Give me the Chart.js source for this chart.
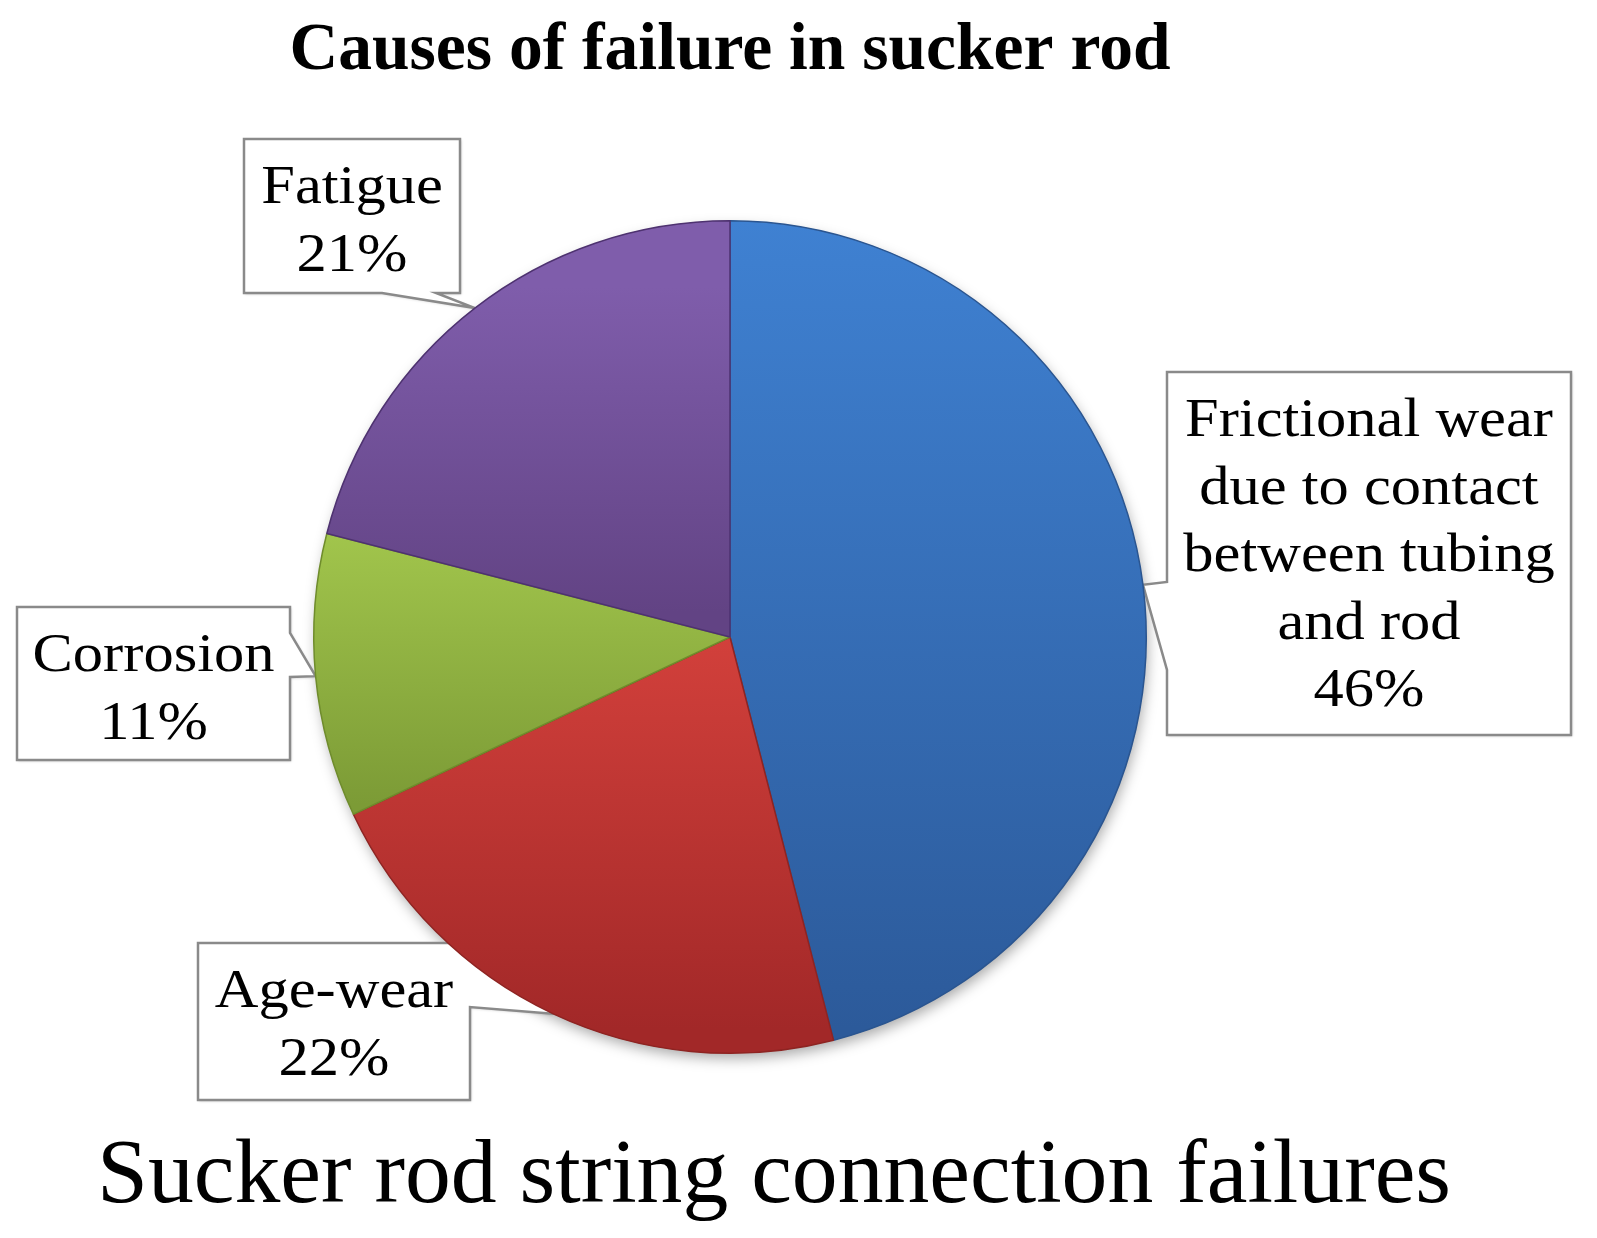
<!DOCTYPE html>
<html>
<head>
<meta charset="utf-8">
<script src="https://cdn.jsdelivr.net/npm/chart.js@4.4.1/dist/chart.umd.min.js"></script>
<style>
  html, body { margin: 0; padding: 0; background: #fff; }
  #wrap { width: 1597px; height: 1238px; }
</style>
</head>
<body>
<div id="wrap"><canvas id="myChart" width="1597" height="1238"></canvas></div>
<script>
// data
const categories = [
  ['Frictional wear', 'due to contact', 'between tubing', 'and rod'],
  ['Age-wear'],
  ['Corrosion'],
  ['Fatigue']
];
const shares = [46, 22, 11, 21];
const chartTitle = 'Causes of failure in sucker rod';
const caption = 'Sucker rod string connection failures';

// slice colours: [offset top, colour top, offset bottom, colour bottom] of a vertical gradient
const sliceFills = [
  [0.0, '#3f81d2', 0.97, '#2c5a9a'],
  [0.5, '#d2403b', 0.97, '#a22828'],
  [0.36, '#a3c74d', 0.7, '#7c9b36'],
  [0.08, '#7f5dab', 0.47, '#624384']
];
const sliceEdges = ['#2a5590', '#8e2422', '#6f8c2c', '#4e3270'];

// callout boxes [x0, y0, x1, y1], pointer side and where the pointer leaves the box
const callouts = [
  { box: [1167, 372, 1571, 735], side: 'left', base: [582, 670] },
  { box: [198, 943, 470, 1100], side: 'right', base: [943, 1007] },
  { box: [17, 607, 290, 760], side: 'right', base: [633, 677] },
  { box: [244, 139, 460, 293], side: 'bottom', base: [382, 436] }
];

function fillFit(ctx, text, cx, y, font, width) {
  ctx.save();
  ctx.font = font;
  const w = ctx.measureText(text).width;
  ctx.translate(cx, y);
  ctx.scale(width / w, 1);
  ctx.textAlign = 'center';
  ctx.textBaseline = 'alphabetic';
  ctx.fillText(text, 0, 0);
  ctx.restore();
}

const calloutPlugin = {
  id: 'callouts',
  beforeDatasetsDraw(chart) {
    const ctx = chart.ctx;
    const meta = chart.getDatasetMeta(0);
    const first = meta.data[0];

    // soft shadow under the pie
    ctx.save();
    ctx.beginPath();
    ctx.arc(first.x, first.y, first.outerRadius - 1, 0, Math.PI * 2);
    ctx.shadowColor = 'rgba(0,0,0,0.35)';
    ctx.shadowBlur = 14;
    ctx.shadowOffsetX = 2;
    ctx.shadowOffsetY = 6;
    ctx.fillStyle = '#ffffff';
    ctx.fill();
    ctx.restore();

    callouts.forEach((c, i) => {
      const arc = meta.data[i];
      const mid = (arc.startAngle + arc.endAngle) / 2;
      const tx = arc.x + Math.cos(mid) * arc.outerRadius;
      const ty = arc.y + Math.sin(mid) * arc.outerRadius;
      const [x0, y0, x1, y1] = c.box;
      const [b0, b1] = c.base;
      let pts;
      if (c.side === 'left') {
        pts = [[x0, y0], [x1, y0], [x1, y1], [x0, y1], [x0, b1], [tx, ty], [x0, b0]];
      } else if (c.side === 'right') {
        pts = [[x0, y0], [x1, y0], [x1, b0], [tx, ty], [x1, b1], [x1, y1], [x0, y1]];
      } else {
        pts = [[x0, y0], [x1, y0], [x1, y1], [b1, y1], [tx, ty], [b0, y1], [x0, y1]];
      }
      ctx.save();
      ctx.beginPath();
      pts.forEach((p, k) => k ? ctx.lineTo(p[0], p[1]) : ctx.moveTo(p[0], p[1]));
      ctx.closePath();
      ctx.fillStyle = '#ffffff';
      ctx.shadowColor = 'rgba(0,0,0,0.25)';
      ctx.shadowBlur = 3;
      ctx.shadowOffsetX = 1;
      ctx.shadowOffsetY = 1;
      ctx.fill();
      ctx.shadowColor = 'transparent';
      ctx.strokeStyle = '#8a8a8a';
      ctx.lineWidth = 2.5;
      ctx.lineJoin = 'miter';
      ctx.stroke();

      // label text
      const lines = categories[i].concat([shares[i] + '%']);
      const cx = (x0 + x1) / 2;
      ctx.fillStyle = '#000000';
      ctx.font = '55px "Liberation Serif"';
      ctx.textAlign = 'center';
      lines.forEach((ln, k) => {
        ctx.save();
        ctx.translate(cx, y0 + 64 + k * 67.5);
        ctx.scale(1.1, 1);
        ctx.fillText(ln, 0, 0);
        ctx.restore();
      });
      ctx.restore();
    });
  },
  afterDraw(chart) {
    const ctx = chart.ctx;
    ctx.fillStyle = '#000000';
    fillFit(ctx, chartTitle, 730, 69, 'bold 68px "Liberation Serif"', 881);
    fillFit(ctx, caption, 774, 1202, '90px "Liberation Serif"', 1354);
  }
};

const ctx = document.getElementById('myChart');
new Chart(ctx, {
  type: 'pie',
  data: {
    labels: categories,
    datasets: [{
      data: shares,
      backgroundColor: (c) => {
        const f = sliceFills[c.dataIndex];
        const area = c.chart.chartArea;
        if (!area || f === undefined) return f ? f[1] : '#999';
        const g = c.chart.ctx.createLinearGradient(0, area.top, 0, area.bottom);
        g.addColorStop(f[0], f[1]);
        g.addColorStop(f[2], f[3]);
        return g;
      },
      borderColor: sliceEdges,
      borderWidth: 1.5
    }]
  },
  options: {
    responsive: false,
    animation: false,
    rotation: 0,
    layout: { padding: { top: 220, bottom: 184, left: 313, right: 450 } },
    plugins: {
      legend: { display: false },
      title: { display: false },
      tooltip: { enabled: false }
    }
  },
  plugins: [calloutPlugin]
});
</script>
</body>
</html>
